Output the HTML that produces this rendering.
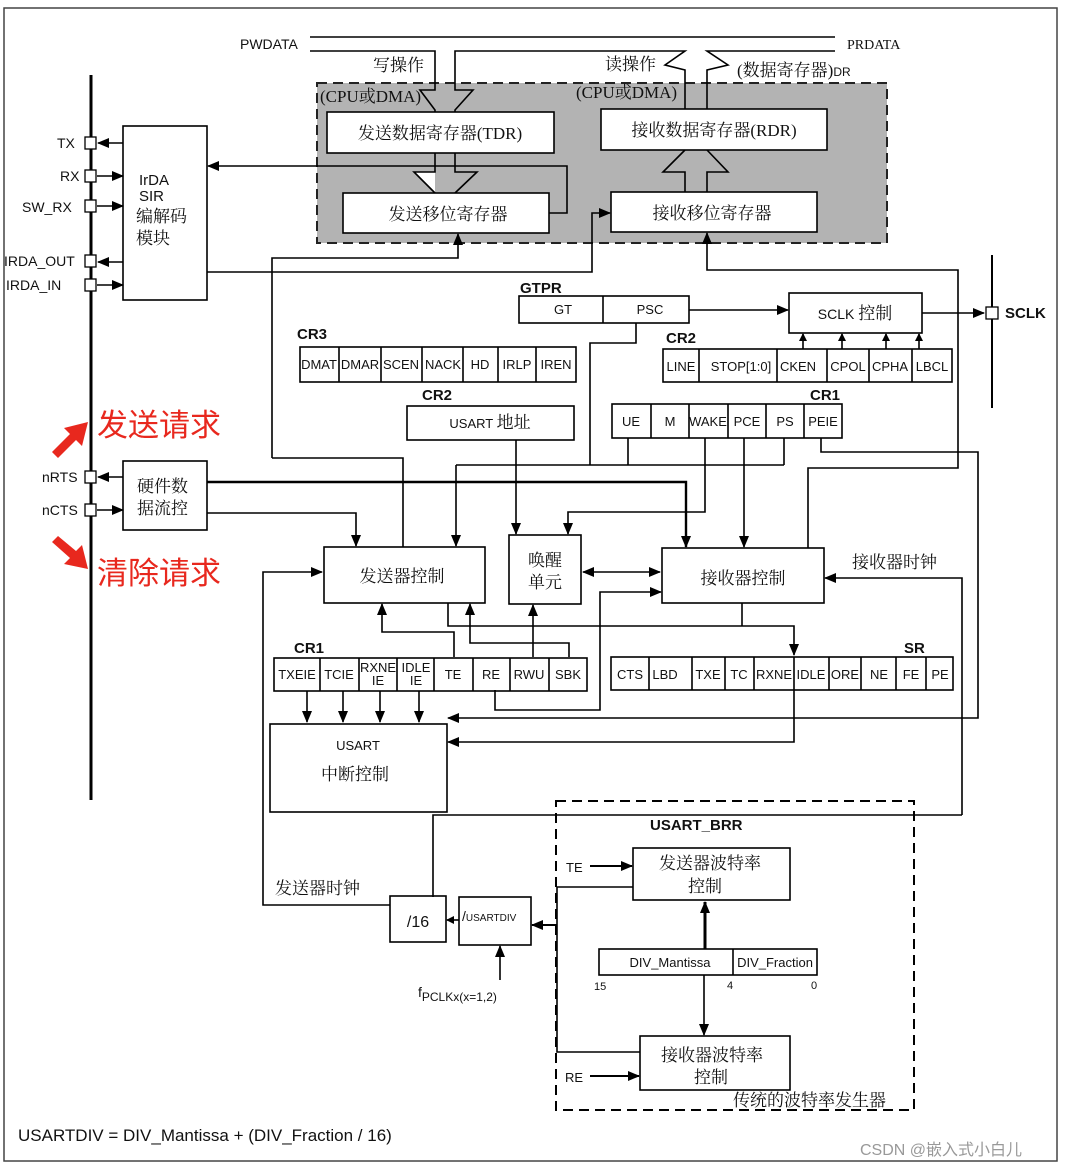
<!DOCTYPE html>
<html><head><meta charset="utf-8"><style>
html,body{margin:0;padding:0;background:#fff;}
svg{display:block;}
text{font-family:"Liberation Sans","Noto Sans CJK SC",sans-serif;fill:#111;}
.cn{font-family:"Liberation Serif","Noto Serif CJK SC",serif;font-size:17px;}
.r{font-size:13px;}
.b{font-weight:bold;font-size:15px;}
</style></head><body>
<svg width="1067" height="1169" viewBox="0 0 1067 1169" xmlns="http://www.w3.org/2000/svg">
<defs>
<marker id="a" markerWidth="12" markerHeight="10" refX="11" refY="5" orient="auto" markerUnits="userSpaceOnUse"><path d="M0,0 L12,5 L0,10 z" fill="#000"/></marker>
<marker id="as" markerWidth="8" markerHeight="8" refX="7" refY="4" orient="auto" markerUnits="userSpaceOnUse"><path d="M0,0 L8,4 L0,8 z" fill="#000"/></marker>
<marker id="ab" markerWidth="12" markerHeight="10" refX="1" refY="5" orient="auto" markerUnits="userSpaceOnUse"><path d="M12,0 L0,5 L12,10 z" fill="#000"/></marker>
</defs>
<rect x="4" y="8" width="1053" height="1153" fill="none" stroke="#444" stroke-width="1.5"/>
<g fill="none" stroke="#000" stroke-width="1.6">
<rect x="317" y="83" width="570" height="160" fill="#b3b3b3" stroke="#222" stroke-dasharray="10,6" stroke-width="2"/>
<path d="M310,37 H835"/>
<path d="M310,51 H435 V90 L420,90 L435,110 V112"/>
<path d="M455,112 V110 L473,90 L455,90 V51 H685 L665,65 L685,70 V110"/>
<path d="M707,110 V70 L728,65 L707,51 H835"/>
<rect x="327" y="112" width="227" height="41" fill="#fff"/>
<rect x="601" y="109" width="226" height="41" fill="#fff"/>
<rect x="343" y="193" width="206" height="40" fill="#fff"/>
<rect x="611" y="192" width="206" height="40" fill="#fff"/>
<path d="M435,153 V172 H414 L435,193" fill="#fff"/>
<path d="M455,153 V172 H477 L455,193"/>
<path d="M685,192 V172 H663 L685,150"/>
<path d="M707,192 V172 H728 L707,150"/>
<path d="M91,75 V800" stroke-width="3"/>
<rect x="123" y="126" width="84" height="174" fill="#fff"/>
<rect x="123" y="461" width="84" height="69" fill="#fff"/>
<path d="M123,143 H98" marker-end="url(#a)"/>
<path d="M97,176 H123" marker-end="url(#a)"/>
<path d="M97,206 H123" marker-end="url(#a)"/>
<path d="M123,262 H98" marker-end="url(#a)"/>
<path d="M97,285 H123" marker-end="url(#a)"/>
<path d="M123,477 H98" marker-end="url(#a)"/>
<path d="M97,510 H123" marker-end="url(#a)"/>
<g fill="#fff" stroke-width="1.3">
<rect x="85" y="137" width="11" height="12"/><rect x="85" y="170" width="11" height="12"/><rect x="85" y="200" width="11" height="12"/>
<rect x="85" y="255" width="11" height="12"/><rect x="85" y="279" width="11" height="12"/><rect x="85" y="471" width="11" height="12"/><rect x="85" y="504" width="11" height="12"/>
</g>
<path d="M549,213 H567 V166 H208" marker-end="url(#a)"/>
<path d="M207,272 H592 V213 H610" marker-end="url(#a)"/>
<path d="M272,458 V258 H458 V234" marker-end="url(#a)"/>
<path d="M272,458 H403 V547"/>
<path d="M808,548 V468 H958 V270 H707 V233" marker-end="url(#a)"/>
<rect x="519" y="296" width="170" height="27"/><path d="M603,296 V323"/>
<path d="M689,310 H788" marker-end="url(#a)"/>
<rect x="789" y="293" width="133" height="40"/>
<path d="M922,313 H984" marker-end="url(#a)"/>
<path d="M992,255 V408" stroke-width="2"/>
<rect x="986" y="307" width="12" height="12" fill="#fff" stroke-width="1.3"/>
<path d="M636,323 V343 H590 V465"/>
<path d="M456,465 H784"/>
<path d="M456,465 V546" marker-end="url(#a)"/>
<rect x="300" y="347" width="276" height="35"/>
<path d="M339,347V382M381,347V382M422,347V382M463,347V382M498,347V382M536,347V382"/>
<rect x="663" y="349" width="289" height="33"/>
<path d="M699,349V382M777,349V382M827,349V382M869,349V382M912,349V382"/>
<path d="M803,349V334" marker-end="url(#as)"/>
<path d="M842,349V334" marker-end="url(#as)"/>
<path d="M886,349V334" marker-end="url(#as)"/>
<path d="M919,349V334" marker-end="url(#as)"/>
<rect x="612" y="404" width="230" height="34"/>
<path d="M651,404V438M689,404V438M728,404V438M766,404V438M804,404V438"/>
<path d="M628,438V465M784,438V465"/>
<path d="M705,438 V512 H568 V534" marker-end="url(#a)"/>
<path d="M744,438 V547" marker-end="url(#a)"/>
<path d="M821,438 V452 H978 V718 H448" marker-end="url(#a)"/>
<rect x="407" y="406" width="167" height="34"/>
<path d="M516,440 V534" marker-end="url(#a)"/>
<path d="M207,482 H686 V547" stroke-width="2.4" marker-end="url(#a)"/>
<path d="M207,513 H356 V546" marker-end="url(#a)"/>
<rect x="324" y="547" width="161" height="56" fill="#fff"/>
<rect x="509" y="535" width="72" height="69" fill="#fff"/>
<rect x="662" y="548" width="162" height="55" fill="#fff"/>
<path d="M583,572 H660" marker-end="url(#a)" marker-start="url(#ab)"/>
<path d="M962,815 V578 H825" marker-end="url(#a)"/>
<path d="M433,897 V815 H962"/>
<path d="M390,905 H263 V572 H322" marker-end="url(#a)"/>
<path d="M495,690 V710 H600 V592 H661" marker-end="url(#a)"/>
<path d="M448,603 V626 H794 V655" marker-end="url(#a)"/>
<path d="M742,603 V626"/>
<path d="M454,657 V632 H382 V604" marker-end="url(#a)"/>
<path d="M569,657 V643 H470 V604" marker-end="url(#a)"/>
<path d="M533,657 V605" marker-end="url(#a)"/>
<rect x="274" y="658" width="313" height="33"/>
<path d="M320,658V691M359,658V691M397,658V691M434,658V691M473,658V691M510,658V691M549,658V691"/>
<rect x="611" y="657" width="342" height="33"/>
<path d="M649,657V690M692,657V690M725,657V690M754,657V690M794,657V690M829,657V690M861,657V690M896,657V690M926,657V690"/>
<path d="M794,690 V742 H448" marker-end="url(#a)"/>
<path d="M307,691V722" marker-end="url(#a)"/>
<path d="M343,691V722" marker-end="url(#a)"/>
<path d="M380,691V722" marker-end="url(#a)"/>
<path d="M419,691V722" marker-end="url(#a)"/>
<rect x="270" y="724" width="177" height="88"/>
<rect x="556" y="801" width="358" height="309" stroke-dasharray="10,6" stroke-width="2"/>
<rect x="633" y="848" width="157" height="52"/>
<rect x="640" y="1036" width="150" height="54"/>
<rect x="599" y="949" width="218" height="26"/><path d="M733,949V975"/>
<path d="M705,949 V902" stroke-width="3" marker-end="url(#a)"/>
<path d="M704,975 V1035" marker-end="url(#a)"/>
<path d="M590,866 H632" stroke-width="2" marker-end="url(#a)"/>
<path d="M590,1076 H639" stroke-width="2" marker-end="url(#a)"/>
<path d="M633,887 H557 V1052 H640"/>
<path d="M557,925 H532" stroke-width="2" marker-end="url(#a)"/>
<rect x="390" y="896" width="56" height="46"/>
<rect x="459" y="897" width="72" height="48"/>
<path d="M459,920 H447" marker-end="url(#as)"/>
<path d="M500,980 V946" marker-end="url(#a)"/>
</g>
<g fill="#e8281e">
<path d="M52,452 L70,434 L64,428 L88,422 L82,446 L76,440 L58,458z"/>
<path d="M52,542 L70,558 L64,564 L88,569 L82,545 L76,551 L58,536z"/>
</g>
<text x="97" y="436" style="font-size:31px;fill:#e8281e;font-family:'Noto Sans CJK SC',sans-serif">发送请求</text>
<text x="97" y="584" style="font-size:31px;fill:#e8281e;font-family:'Noto Sans CJK SC',sans-serif">清除请求</text>
<g font-size="14">
<text x="240" y="49">PWDATA</text>
<text x="847" y="49" style="font-family:'Liberation Serif',serif">PRDATA</text>
<text x="57" y="148">TX</text><text x="60" y="181">RX</text><text x="22" y="212">SW_RX</text>
<text x="4" y="266">IRDA_OUT</text><text x="6" y="290">IRDA_IN</text>
<text x="42" y="482">nRTS</text><text x="42" y="515">nCTS</text>
<text x="139" y="185" font-size="15">IrDA</text><text x="139" y="201" font-size="15">SIR</text>
</g>
<text class="cn" x="136" y="222">编解码</text><text class="cn" x="136" y="244">模块</text>
<text class="cn" x="137" y="492">硬件数</text><text class="cn" x="137" y="514">据流控</text>
<text class="cn" x="373" y="71">写操作</text>
<text class="cn" x="605" y="70">读操作</text>
<text class="cn" x="737" y="76" font-size="16">(数据寄存器)<tspan font-size="12" font-family="Liberation Sans">DR</tspan></text>
<text class="cn" x="320" y="102" font-size="13">(CPU或DMA)</text>
<text class="cn" x="576" y="98" font-size="13">(CPU或DMA)</text>
<text class="cn" x="440" y="139" text-anchor="middle">发送数据寄存器(TDR)</text>
<text class="cn" x="714" y="136" text-anchor="middle">接收数据寄存器(RDR)</text>
<text class="cn" x="448" y="220" text-anchor="middle">发送移位寄存器</text>
<text class="cn" x="712" y="219" text-anchor="middle">接收移位寄存器</text>
<text class="b" x="520" y="293">GTPR</text>
<text class="r" x="563" y="314" text-anchor="middle">GT</text><text class="r" x="650" y="314" text-anchor="middle">PSC</text>
<text x="855" y="319" text-anchor="middle" font-size="14">SCLK <tspan class="cn">控制</tspan></text>
<text class="b" x="1005" y="318">SCLK</text>
<text class="b" x="297" y="339">CR3</text>
<g class="r" text-anchor="middle">
<text x="319" y="369">DMAT</text><text x="360" y="369">DMAR</text><text x="401" y="369">SCEN</text><text x="443" y="369">NACK</text><text x="480" y="369">HD</text><text x="517" y="369">IRLP</text><text x="556" y="369">IREN</text>
<text x="681" y="371">LINE</text><text x="741" y="371">STOP[1:0]</text><text x="798" y="371">CKEN</text><text x="848" y="371">CPOL</text><text x="890" y="371">CPHA</text><text x="932" y="371">LBCL</text>
<text x="631" y="426">UE</text><text x="670" y="426">M</text><text x="708" y="426">WAKE</text><text x="747" y="426">PCE</text><text x="785" y="426">PS</text><text x="823" y="426">PEIE</text>
<text x="297" y="679">TXEIE</text><text x="339" y="679">TCIE</text><text x="378" y="672">RXNE</text><text x="378" y="685">IE</text><text x="416" y="672">IDLE</text><text x="416" y="685">IE</text><text x="453" y="679">TE</text><text x="491" y="679">RE</text><text x="529" y="679">RWU</text><text x="568" y="679">SBK</text>
<text x="630" y="679">CTS</text><text x="665" y="679">LBD</text><text x="708" y="679">TXE</text><text x="739" y="679">TC</text><text x="774" y="679">RXNE</text><text x="811" y="679">IDLE</text><text x="845" y="679">ORE</text><text x="879" y="679">NE</text><text x="911" y="679">FE</text><text x="940" y="679">PE</text>
</g>
<text class="b" x="666" y="343">CR2</text>
<text class="b" x="810" y="400">CR1</text>
<text class="b" x="422" y="400">CR2</text>
<text x="490" y="428" text-anchor="middle" font-size="13">USART <tspan class="cn">地址</tspan></text>
<text class="cn" x="402" y="582" text-anchor="middle">发送器控制</text>
<text class="cn" x="545" y="566" text-anchor="middle">唤醒</text><text class="cn" x="545" y="588" text-anchor="middle">单元</text>
<text class="cn" x="743" y="584" text-anchor="middle">接收器控制</text>
<text class="cn" x="852" y="568">接收器时钟</text>
<text class="b" x="294" y="653">CR1</text>
<text class="b" x="904" y="653">SR</text>
<text x="358" y="750" text-anchor="middle" font-size="13">USART</text>
<text class="cn" x="355" y="780" text-anchor="middle">中断控制</text>
<text class="b" x="650" y="830">USART_BRR</text>
<text x="566" y="872" font-size="13">TE</text><text x="565" y="1082" font-size="13">RE</text>
<text class="cn" x="710" y="869" text-anchor="middle">发送器波特率</text><text class="cn" x="705" y="892" text-anchor="middle">控制</text>
<text class="cn" x="712" y="1061" text-anchor="middle">接收器波特率</text><text class="cn" x="711" y="1083" text-anchor="middle">控制</text>
<text x="670" y="967" text-anchor="middle" font-size="13">DIV_Mantissa</text><text x="775" y="967" text-anchor="middle" font-size="13">DIV_Fraction</text>
<text x="594" y="990" font-size="11">15</text><text x="727" y="989" font-size="11">4</text><text x="811" y="989" font-size="11">0</text>
<text class="cn" x="733" y="1106" font-size="16">传统的波特率发生器</text>
<text class="cn" x="275" y="894">发送器时钟</text>
<text x="418" y="927" text-anchor="middle" font-size="16">/16</text>
<text x="462" y="921" font-size="14">/<tspan font-size="10">USARTDIV</tspan></text>
<text x="418" y="997" font-size="14">f<tspan font-size="12" dy="4">PCLKx(x=1,2)</tspan></text>
<text x="18" y="1141" font-size="17">USARTDIV = DIV_Mantissa + (DIV_Fraction / 16)</text>
<text x="860" y="1155" font-size="16" style="fill:#999">CSDN @嵌入式小白儿</text>
</svg>
</body></html>
